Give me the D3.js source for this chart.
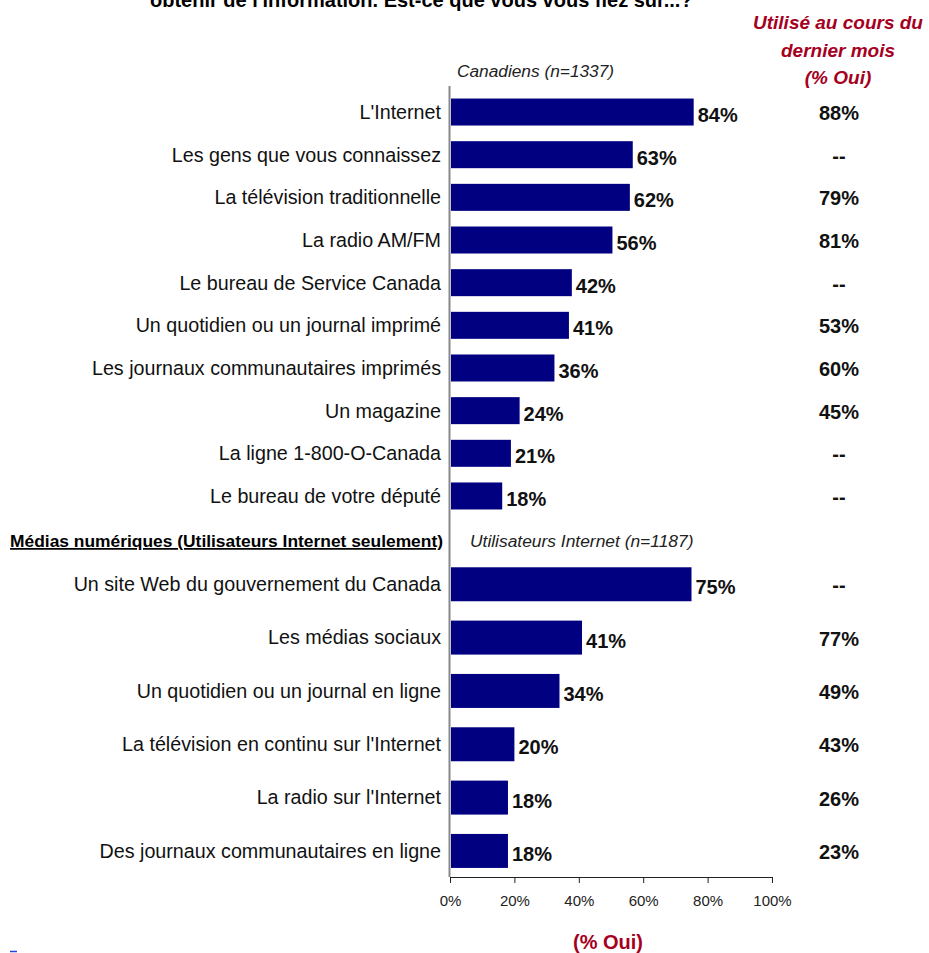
<!DOCTYPE html>
<html>
<head>
<meta charset="utf-8">
<script src="https://cdn.jsdelivr.net/npm/d3@7"></script>
<style>
    body { margin: 0; background: #fff; }
    svg { display: block; font-family: "Liberation Sans", Arial, sans-serif; }
</style>
</head>
<body>
<svg id="chart"></svg>
<script>
// data
const topCategories = [
    "L'Internet",
    "Les gens que vous connaissez",
    "La télévision traditionnelle",
    "La radio AM/FM",
    "Le bureau de Service Canada",
    "Un quotidien ou un journal imprimé",
    "Les journaux communautaires imprimés",
    "Un magazine",
    "La ligne 1-800-O-Canada",
    "Le bureau de votre député"
];
const topValues = [84, 63, 62, 56, 42, 41, 36, 24, 21, 18];
const topLastMonth = ["88%", "--", "79%", "81%", "--", "53%", "60%", "45%", "--", "--"];

const bottomCategories = [
    "Un site Web du gouvernement du Canada",
    "Les médias sociaux",
    "Un quotidien ou un journal en ligne",
    "La télévision en continu sur l'Internet",
    "La radio sur l'Internet",
    "Des journaux communautaires en ligne"
];
const bottomValues = [75, 41, 34, 20, 18, 18];
const bottomLastMonth = ["--", "77%", "49%", "43%", "26%", "23%"];

const xTicks = [0, 20, 40, 60, 80, 100];

const width = 929, height = 953;
const navy = '#000080', darkRed = '#a50021';

const svg = d3.select('#chart')
    .attr('width', width)
    .attr('height', height);

// the top block was pasted from a chart with a longer axis
const xTop = d3.scaleLinear().domain([0, 111]).range([450, 772]);
const xBottom = d3.scaleLinear().domain([0, 100]).range([450, 772]);

const yTop = d3.scaleBand()
    .domain(topCategories)
    .range([90.7, 517.3])
    .paddingInner(0.367)
    .paddingOuter(0.1835);

const yBottom = d3.scaleBand()
    .domain(bottomCategories)
    .range([557.6, 877.6])
    .paddingInner(0.363)
    .paddingOuter(0.1815);

// cut-off title
svg.append('text')
    .attr('x', 150)
    .attr('y', 7)
    .attr('font-weight', 'bold')
    .attr('font-size', 20)
    .text("obtenir de l'information. Est-ce que vous vous fiez sur...?");

// right header
const header = svg.append('text')
    .attr('font-weight', 'bold')
    .attr('font-style', 'italic')
    .attr('font-size', 19)
    .attr('fill', darkRed)
    .attr('text-anchor', 'middle');
['Utilisé au cours du', 'dernier mois', '(% Oui)'].forEach((t, i) => {
    header.append('tspan').attr('x', 838).attr('y', 29 + i * 27.5).text(t);
});

svg.append('text')
    .attr('x', 457).attr('y', 77)
    .attr('font-style', 'italic')
    .attr('font-size', 17.3)
    .attr('fill', '#222')
    .text('Canadiens (n=1337)');

svg.append('text')
    .attr('x', 470).attr('y', 547)
    .attr('font-style', 'italic')
    .attr('font-size', 17.4)
    .attr('fill', '#222')
    .text('Utilisateurs Internet (n=1187)');

svg.append('text')
    .attr('x', 443).attr('y', 547)
    .attr('text-anchor', 'end')
    .attr('font-weight', 'bold')
    .attr('font-size', 17.4)
    .attr('text-decoration', 'underline')
    .text('Médias numériques (Utilisateurs Internet seulement)');

function drawBlock(cats, vals, month, x, y, cls) {
    const g = svg.append('g').attr('class', cls);

    g.selectAll('rect')
        .data(cats)
        .enter()
        .append('rect')
        .attr('x', x(0) + 1)
        .attr('y', d => y(d))
        .attr('width', (d, i) => x(vals[i]) - x(0) - 1)
        .attr('height', y.bandwidth())
        .attr('fill', navy);

    g.selectAll('.cat')
        .data(cats)
        .enter()
        .append('text')
        .attr('class', 'cat')
        .attr('x', 441)
        .attr('y', d => y(d) + y.bandwidth() / 2)
        .attr('dy', '0.35em')
        .attr('text-anchor', 'end')
        .attr('font-size', 19.7)
        .attr('fill', '#111')
        .text(d => d);

    g.selectAll('.val')
        .data(cats)
        .enter()
        .append('text')
        .attr('class', 'val')
        .attr('x', (d, i) => x(vals[i]) + 4)
        .attr('y', d => y(d) + y.bandwidth() / 2 + 3)
        .attr('dy', '0.35em')
        .attr('font-weight', 'bold')
        .attr('font-size', 20)
        .attr('fill', '#111')
        .text((d, i) => vals[i] + '%');

    g.selectAll('.month')
        .data(cats)
        .enter()
        .append('text')
        .attr('class', 'month')
        .attr('x', 839)
        .attr('y', d => y(d) + y.bandwidth() / 2 + 1)
        .attr('dy', '0.35em')
        .attr('text-anchor', 'middle')
        .attr('font-weight', 'bold')
        .attr('font-size', 20)
        .attr('fill', '#111')
        .text((d, i) => month[i]);
}

drawBlock(topCategories, topValues, topLastMonth, xTop, yTop, 'top');
drawBlock(bottomCategories, bottomValues, bottomLastMonth, xBottom, yBottom, 'bottom');

// vertical axis line
svg.append('line')
    .attr('x1', 449.5).attr('x2', 449.5)
    .attr('y1', 86).attr('y2', 877)
    .attr('stroke', '#888')
    .attr('stroke-width', 2);

// x axis
const xAxis = svg.append('g')
    .attr('transform', 'translate(0,877)')
    .call(d3.axisBottom(xBottom).tickValues(xTicks).tickSize(6).tickFormat(d => d + '%'));
xAxis.select('.domain').attr('stroke', '#222');
xAxis.selectAll('.tick line').attr('stroke', '#222');
xAxis.selectAll('.tick text')
    .attr('font-family', 'Liberation Sans, Arial, sans-serif')
    .attr('font-size', 15)
    .attr('fill', '#222')
    .attr('y', 18);

svg.append('text')
    .attr('x', 608).attr('y', 949)
    .attr('text-anchor', 'middle')
    .attr('font-weight', 'bold')
    .attr('font-size', 20)
    .attr('fill', darkRed)
    .text('(% Oui)');

// stray mark bottom-left
svg.append('line')
    .attr('x1', 10).attr('x2', 17)
    .attr('y1', 951.5).attr('y2', 951.5)
    .attr('stroke', '#2244dd')
    .attr('stroke-width', 1.5);
</script>
</body>
</html>
